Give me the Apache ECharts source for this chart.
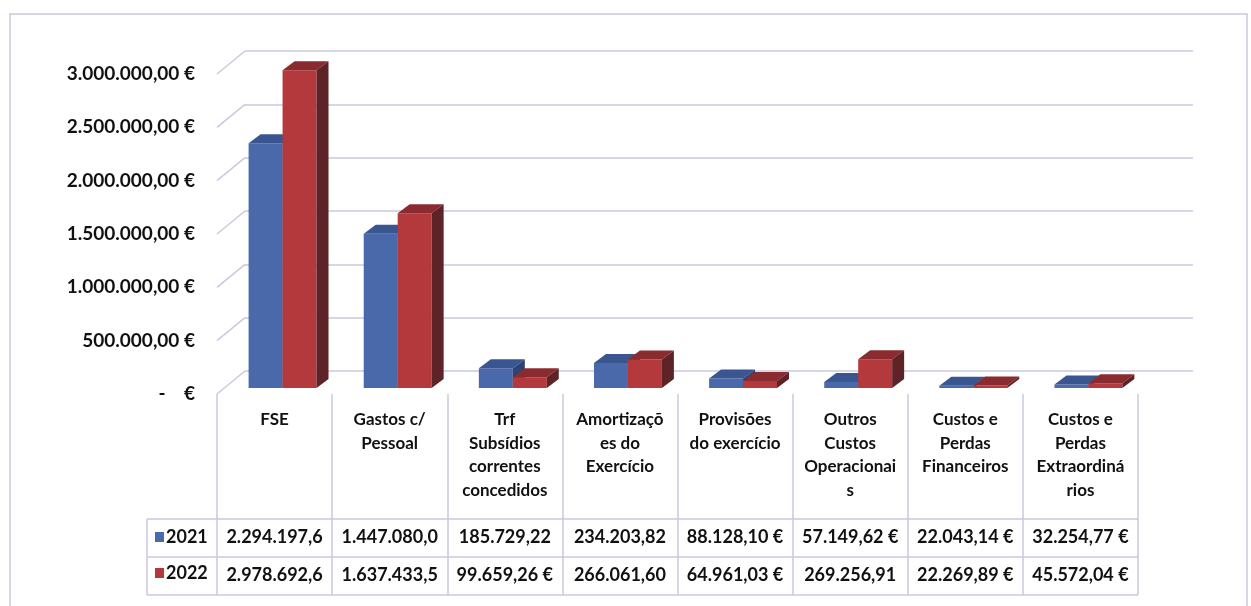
<!DOCTYPE html>
<html>
<head>
<meta charset="utf-8">
<script src="https://cdn.jsdelivr.net/npm/echarts@6/dist/echarts.min.js"></script>
<style>
html,body{margin:0;padding:0;background:#fff;}
#chart{width:1251px;height:606px;}
</style>
</head>
<body>
<div id="chart"></div>
<script>
// ---- data ----
const categories = ['FSE', 'Gastos c/ Pessoal', 'Trf Subsídios correntes concedidos', 'Amortizações do Exercício', 'Provisões do exercício', 'Outros Custos Operacionais', 'Custos e Perdas Financeiros', 'Custos e Perdas Extraordinários'];
const headerLabels = ['FSE', 'Gastos c/\nPessoal', 'Trf\nSubsídios\ncorrentes\nconcedidos', 'Amortizaçõ\nes do\nExercício', 'Provisões\ndo exercício', 'Outros\nCustos\nOperacionai\ns', 'Custos e\nPerdas\nFinanceiros', 'Custos e\nPerdas\nExtraordiná\nrios'];
const seriesNames = ['2021', '2022'];
const values2021 = [2294197.6, 1447080.0, 185729.22, 234203.82, 88128.10, 57149.62, 22043.14, 32254.77];
const values2022 = [2978692.6, 1637433.5, 99659.26, 266061.60, 64961.03, 269256.91, 22269.89, 45572.04];
const table2021 = ['2.294.197,6', '1.447.080,0', '185.729,22', '234.203,82', '88.128,10 €', '57.149,62 €', '22.043,14 €', '32.254,77 €'];
const table2022 = ['2.978.692,6', '1.637.433,5', '99.659,26 €', '266.061,60', '64.961,03 €', '269.256,91', '22.269,89 €', '45.572,04 €'];
const yTicks = [0, 500000, 1000000, 1500000, 2000000, 2500000, 3000000];

// ---- style ----
const FONT = 'Lato';
const GRID_COL = '#c9c9df';
const colors = [
  { front: '#4a69ab', top: '#3a5690', side: '#2d4375' },
  { front: '#b3393d', top: '#8a2b2f', side: '#5e2326' }
];
const DEPTH = { ox: 8, oy: -6, dx: 12, dy: -9 };
const WALL = { dx: 28, dy: -23 };

function eur(v) {
  if (v === 0) return '-    €';
  const s = v.toFixed(2).split('.');
  return s[0].replace(/\B(?=(\d{3})+(?!\d))/g, '.') + ',' + s[1] + ' €';
}

function barRenderer(k) {
  return function (params, api) {
    const i = api.value(0), v = api.value(1);
    const top = api.coord([i, v]);
    const base = api.coord([i, 0]);
    const band = api.size([1, 0])[0];
    const w = band * 0.295;
    const x0 = top[0] - w + k * w + DEPTH.ox;
    const x1 = x0 + w;
    const yT = top[1] + DEPTH.oy, yB = base[1] + DEPTH.oy;
    const c = colors[k];
    return {
      type: 'group',
      children: [
        { type: 'rect', shape: { x: x0, y: yT, width: w, height: yB - yT }, style: { fill: c.front } },
        { type: 'polygon', shape: { points: [[x0, yT], [x0 + DEPTH.dx, yT + DEPTH.dy], [x1 + DEPTH.dx, yT + DEPTH.dy], [x1, yT]] }, style: { fill: c.top } },
        { type: 'polygon', shape: { points: [[x1, yT], [x1 + DEPTH.dx, yT + DEPTH.dy], [x1 + DEPTH.dx, yB + DEPTH.dy], [x1, yB]] }, style: { fill: c.side } }
      ]
    };
  };
}

const chart = echarts.init(document.getElementById('chart'), null, { renderer: 'canvas' });
const labelStyle = { fontFamily: FONT, fontSize: 18, color: '#111', fontWeight: 'bold' };

const option = {
  animation: false,
  backgroundColor: '#fff',
  grid: [
    { left: 217, right: 113, top: 74, bottom: 212 },
    { left: 245, right: 58, top: 51, bottom: 235 }
  ],
  legend: {
    data: seriesNames,
    orient: 'vertical',
    left: 150,
    top: 523,
    itemGap: 18,
    itemWidth: 9,
    itemHeight: 10,
    icon: 'rect',
    selectedMode: false,
    textStyle: { fontFamily: FONT, fontSize: 18, fontWeight: 'bold', color: '#111', lineHeight: 20, padding: [-4, 0, 0, -3] }
  },
  xAxis: [
    {
      gridIndex: 0, type: 'category', data: headerLabels, boundaryGap: true,
      axisLine: { show: false },
      axisTick: { show: true, interval: 0, length: 201, lineStyle: { color: GRID_COL, width: 1.5 } },
      axisLabel: { interval: 0, margin: 14, fontFamily: FONT, fontSize: 17, color: '#111', fontWeight: 'bold', lineHeight: 23.5 }
    },
    {
      gridIndex: 0, type: 'category', data: table2021, position: 'bottom', offset: 125,
      axisLine: { show: false }, axisTick: { show: false },
      axisLabel: Object.assign({ interval: 0, margin: 8, lineHeight: 20 }, labelStyle)
    },
    {
      gridIndex: 0, type: 'category', data: table2022, position: 'bottom', offset: 163,
      axisLine: { show: false }, axisTick: { show: false },
      axisLabel: Object.assign({ interval: 0, margin: 8, lineHeight: 20 }, labelStyle)
    },
    { gridIndex: 1, type: 'value', show: false, min: 0, max: 1 }
  ],
  yAxis: [
    {
      gridIndex: 0, type: 'value', min: 0, max: 3000000, interval: 500000,
      axisLine: { show: false }, axisTick: { show: false }, splitLine: { show: false },
      axisLabel: Object.assign({ margin: 22, formatter: eur }, labelStyle, { fontSize: 19 })
    },
    {
      gridIndex: 1, type: 'value', min: 0, max: 3000000, interval: 500000,
      axisLine: { show: false }, axisTick: { show: false }, axisLabel: { show: false },
      splitLine: { show: true, lineStyle: { color: GRID_COL, width: 1.5 } }
    }
  ],
  series: [
    {
      type: 'custom', name: 'wall', xAxisIndex: 0, yAxisIndex: 0, silent: true, z: 1,
      data: yTicks.map(v => [0, v]),
      encode: { x: 0, y: 1 },
      renderItem: function (params, api) {
        const p = api.coord([0, api.value(1)]);
        const band = api.size([1, 0])[0];
        const x = p[0] - band / 2;
        return { type: 'line', shape: { x1: x, y1: p[1], x2: x + WALL.dx, y2: p[1] + WALL.dy }, style: { stroke: GRID_COL, lineWidth: 1.5 } };
      }
    },
    {
      type: 'custom', name: seriesNames[0], xAxisIndex: 0, yAxisIndex: 0, z: 3,
      itemStyle: { color: colors[0].front },
      data: values2021.map((v, i) => [i, v]),
      encode: { x: 0, y: 1 },
      renderItem: barRenderer(0)
    },
    {
      type: 'custom', name: seriesNames[1], xAxisIndex: 0, yAxisIndex: 0, z: 4,
      itemStyle: { color: colors[1].front },
      data: values2022.map((v, i) => [i, v]),
      encode: { x: 0, y: 1 },
      renderItem: barRenderer(1)
    }
  ],
  graphic: [
    { type: 'rect', shape: { x: 10, y: 14, width: 1237, height: 600 }, style: { fill: null, stroke: GRID_COL, lineWidth: 1.5 }, silent: true },
    { type: 'line', shape: { x1: 147, y1: 519, x2: 1138, y2: 519 }, style: { stroke: GRID_COL, lineWidth: 1.5 } },
    { type: 'line', shape: { x1: 147, y1: 557, x2: 1138, y2: 557 }, style: { stroke: GRID_COL, lineWidth: 1.5 } },
    { type: 'line', shape: { x1: 147, y1: 595, x2: 1138, y2: 595 }, style: { stroke: GRID_COL, lineWidth: 1.5 } },
    { type: 'line', shape: { x1: 147, y1: 519, x2: 147, y2: 595 }, style: { stroke: GRID_COL, lineWidth: 1.5 } }
  ]
};
chart.setOption(option);
</script>
</body>
</html>
